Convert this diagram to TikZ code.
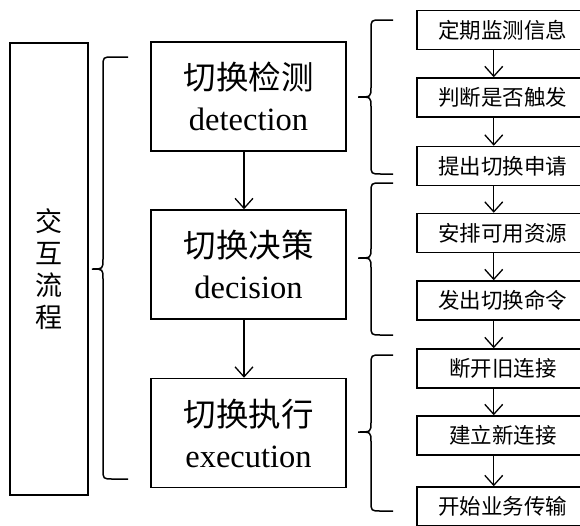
\documentclass[tikz,border=0pt]{standalone}
\usepackage{fontspec}
\setmainfont{Liberation Serif}
\newfontfamily\cjk{Noto Sans CJK SC}
\usetikzlibrary{arrows.meta}
% curly brace: tip x, stem x, right x, top y, bottom y, tip y
\newcommand\drawbrace[6]{%
  \draw[bracket] (#3,#4) -- ({#2+10},#4) .. controls (#2,#4) .. (#2,{#4+10})
    -- (#2,{#6-10}) .. controls (#2,#6) .. (#1,#6)
    .. controls (#2,#6) .. (#2,{#6+10})
    -- (#2,{#5-10}) .. controls (#2,#5) .. ({#2+10},#5) -- (#3,#5);}
\begin{document}
\begin{tikzpicture}[x=1pt,y=-1pt, line width=1.5pt,
  frame/.style={draw, inner sep=0pt, align=center},
  stage/.style={frame, minimum width=195pt, minimum height=109pt,
    font=\fontsize{32.5}{41}\selectfont},
  sub/.style={frame, anchor=west, minimum width=172pt, minimum height=39pt,
    font=\cjk\fontsize{21.5}{25}\selectfont},
  flow/.style={-{Straight Barb[length=10pt,width=18pt]}, line width=1.3pt},
  bracket/.style={line width=1.5pt}]
\useasboundingbox (0,0) rectangle (580,525);
\clip (0,0) rectangle (580,525);

% overall process box
\node[frame, minimum width=78pt, minimum height=452pt,
  font=\cjk\fontsize{27}{32}\selectfont] (proc) at (49,269) {交\\互\\流\\程};

% three stages
\node[stage] (det) at (248.5,96.5) {{\cjk 切换检测}\\detection};
\node[stage] (dec) at (248.5,264.5) {{\cjk 切换决策}\\decision};
\node[stage] (exe) at (248.5,433) {{\cjk 切换执行}\\execution};
\draw[flow] ([xshift=-4.5pt]det.south) -- ([xshift=-4.5pt]dec.north);
\draw[flow] ([xshift=-4.5pt]dec.south) -- ([xshift=-4.5pt]exe.north);

% detailed steps
\node[sub] (s1) at (416,30) {定期监测信息};
\node[sub] (s2) at (416,97.5) {判断是否触发};
\node[sub] (s3) at (416,166) {提出切换申请};
\node[sub] (s4) at (416,233) {安排可用资源};
\node[sub] (s5) at (416,300.5) {发出切换命令};
\node[sub] (s6) at (416,368.5) {断开旧连接};
\node[sub] (s7) at (416,435.5) {建立新连接};
\node[sub] (s8) at (416,506.5) {开始业务传输};
\foreach \a/\b in {s1/s2,s2/s3,s3/s4,s4/s5,s5/s6,s6/s7,s7/s8}
  \draw[flow] ([xshift=-9pt]\a.south) -- ([xshift=-9pt]\b.north);

% braces
\drawbrace{92}{103}{128}{57}{479}{269}
\drawbrace{358}{371}{393}{20}{174}{97}
\drawbrace{358}{371}{393}{183}{335}{258}
\drawbrace{358}{371}{393}{355}{511}{432}
\end{tikzpicture}
\end{document}
